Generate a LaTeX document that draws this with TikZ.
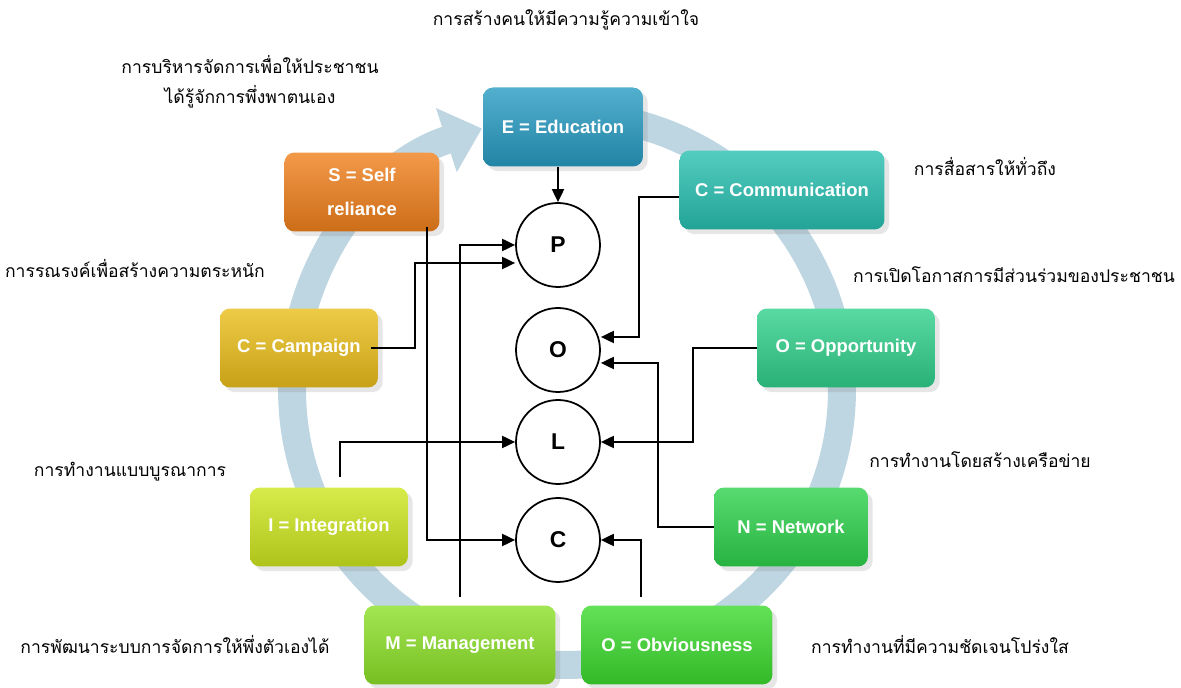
\documentclass[tikz,border=0pt]{standalone}
\usepackage{fontspec}
\setmainfont{Liberation Sans}
\newfontfamily\thai[Script=Thai]{Loma}
\usetikzlibrary{arrows.meta,shadows,calc}

\definecolor{ringc}{RGB}{190,214,226}
\definecolor{colE}{RGB}{40,155,194}
\definecolor{colCm}{RGB}{40,192,176}
\definecolor{colOp}{RGB}{48,208,140}
\definecolor{colN}{RGB}{46,210,76}
\definecolor{colOb}{RGB}{60,218,46}
\definecolor{colM}{RGB}{140,224,40}
\definecolor{colI}{RGB}{205,230,30}
\definecolor{colCp}{RGB}{234,190,26}
\definecolor{colS}{RGB}{240,128,28}

\begin{document}
\begin{tikzpicture}[x=0.02cm, y=-0.02cm,
    box/.style={rounded corners=0.2cm, minimum height=1.58cm, text=white, align=center,
      font=\bfseries\fontsize{10.5}{19}\selectfont, inner sep=2pt,
      top color=#1!80!white, bottom color=#1!85!black, drop shadow={opacity=0.2}},
    letter/.style={circle, draw, line width=1pt, fill=white, minimum size=1.68cm, font=\bfseries\fontsize{13}{15}\selectfont},
    note/.style={font=\thai\fontsize{10}{17}\selectfont, align=center},
    link/.style={line width=1.1pt, -{Triangle[length=2.6mm,width=2.4mm]}}]
      \useasboundingbox (0,0) rectangle (1181,688);

      % ring with arrow
      \coordinate (o) at (567,390);
      \draw[ringc, line width=0.56cm, -{Triangle[length=0.75cm,width=1.3cm]}]
        (o) ++(95:5.5cm) arc[start angle=95, end angle=-252, radius=5.5cm];

      \node[box=colE,  minimum width=3.2cm]  (E)  at (563,127) {E = Education};
      \node[box=colCm, minimum width=4.1cm]  (Cm) at (782,190) {C = Communication};
      \node[box=colOp, minimum width=3.56cm] (Op) at (846,348) {O = Opportunity};
      \node[box=colN,  minimum width=3.08cm] (N)  at (791,527) {N = Network};
      \node[box=colOb, minimum width=3.82cm] (Ob) at (677,645) {O = Obviousness};
      \node[box=colM,  minimum width=3.82cm] (M)  at (460,645) {M = Management};
      \node[box=colI,  minimum width=3.16cm] (I)  at (329,527) {I = Integration};
      \node[box=colCp, minimum width=3.16cm] (Cp) at (299,348) {C = Campaign};
      \node[box=colS,  minimum width=3.1cm]  (S)  at (362,192) {S = Self\\reliance};

      \node[letter] (P) at (558,245) {P};
      \node[letter] (O) at (558,350) {O};
      \node[letter] (L) at (558,442) {L};
      \node[letter] (C) at (558,540) {C};

      \node[note] (tE)  at (566,20)  {การสร้างคนให้มีความรู้ความเข้าใจ};
      \node[note] (tS)  at (250,82)  {การบริหารจัดการเพื่อให้ประชาชน\\ได้รู้จักการพึ่งพาตนเอง};
      \node[note] (tCm) at (985,167) {การสื่อสารให้ทั่วถึง};
      \node[note] (tOp) at (1014,275) {การเปิดโอกาสการมีส่วนร่วมของประชาชน};
      \node[note] (tCp) at (135,269) {การรณรงค์เพื่อสร้างความตระหนัก};
      \node[note] (tI)  at (130,472) {การทำงานแบบบูรณาการ};
      \node[note] (tN)  at (980,460) {การทำงานโดยสร้างเครือข่าย};
      \node[note] (tM)  at (175,645) {การพัฒนาระบบการจัดการให้พึ่งตัวเองได้};
      \node[note] (tOb) at (940,645) {การทำงานที่มีความชัดเจนโปร่งใส};

      \draw[link] (E.south -| P.north) -- (P.north);
      \draw[link] ([xshift=1.3cm,yshift=0.1cm]S.south) |- (C.west);
      \draw[link] ([yshift=0.16cm]M.north) |- (P.west);
      \draw[link] ([xshift=-4pt]Cp.east) -- ++(44,0) |- ([yshift=-0.36cm]P.west);
      \draw[link] ([xshift=0.22cm,yshift=0.2cm]I.north) |- (L.west);
      \draw[link] ([yshift=-0.14cm]Cm.west) -- ++(-40,0) |- ([yshift=0.26cm]O.east);
      \draw[link] (N.west) -- ++(-56,0) |- ([yshift=-0.26cm]O.east);
      \draw[link] (Op.west) -- ++(-64,0) |- (L.east);
      \draw[link] ([xshift=-0.72cm,yshift=0.16cm]Ob.north) |- (C.east);
    \end{tikzpicture}
\end{document}
